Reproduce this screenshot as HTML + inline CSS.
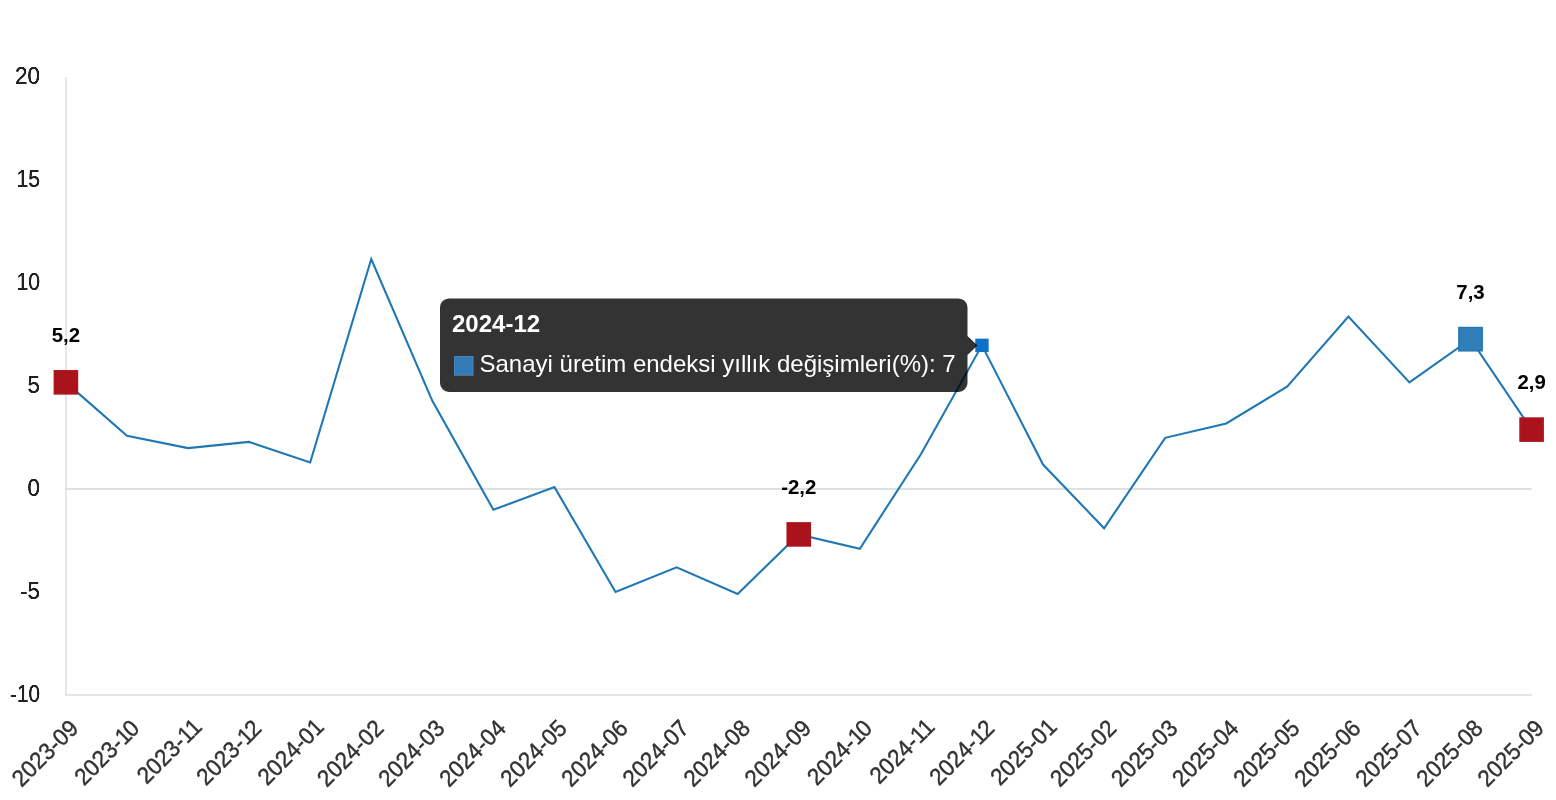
<!DOCTYPE html>
<html lang="tr"><head><meta charset="utf-8"><title>Sanayi üretim endeksi</title>
<style>
html,body{margin:0;padding:0;background:#fff;}
body{width:1556px;height:800px;overflow:hidden;position:relative;}
svg{display:block;position:absolute;left:0;top:0;}
.yl{font-family:"Liberation Sans",sans-serif;font-size:22px;fill:#222;text-anchor:end;}
.xl{font-family:"Liberation Sans",sans-serif;font-size:23.5px;fill:#333;stroke:#333;stroke-width:0.4px;text-anchor:start;}
.dl{font-family:"Liberation Sans",sans-serif;font-size:20.4px;font-weight:bold;fill:#000;text-anchor:middle;}
.tt{font-family:"Liberation Sans",sans-serif;font-size:24px;fill:#fff;}
</style></head><body>
<svg width="1556" height="800" viewBox="0 0 1556 800">

<defs><filter id="bolden" x="-10%" y="-20%" width="120%" height="140%" color-interpolation-filters="sRGB"><feGaussianBlur stdDeviation="0.42"/><feComponentTransfer><feFuncA type="linear" slope="1.7" intercept="0"/></feComponentTransfer></filter></defs>
<rect x="65" y="77" width="2" height="619" fill="#e5e5e5"/>
<rect x="65" y="694" width="1467" height="2" fill="#e5e5e5"/>
<rect x="65" y="488" width="1466.5" height="2" fill="#dfe0e1"/>
<text class="yl" filter="url(#bolden)" transform="translate(40.0,84.2) scale(1.02,1.055)">20</text>
<text class="yl" style="font-size:20.8px" filter="url(#bolden)" transform="translate(40.0,187.2) scale(1.02,1.1159)">15</text>
<text class="yl" style="font-size:20.8px" filter="url(#bolden)" transform="translate(40.0,290.2) scale(1.02,1.1159)">10</text>
<text class="yl" filter="url(#bolden)" transform="translate(40.0,393.2) scale(1.02,1.055)">5</text>
<text class="yl" filter="url(#bolden)" transform="translate(40.0,496.2) scale(1.02,1.055)">0</text>
<text class="yl" filter="url(#bolden)" transform="translate(40.0,599.2) scale(1.02,1.055)">-5</text>
<text class="yl" style="font-size:20.3px" filter="url(#bolden)" transform="translate(40.0,702.2) scale(1.02,1.1433)">-10</text>
<text class="xl" x="-86.24 -73.17 -60.10 -47.03 -33.96 -26.14 -13.07" transform="translate(79.70,729.70) rotate(-45) scale(0.955,1)">2023-09</text>
<text class="xl" x="-84.15 -71.08 -58.01 -44.94 -31.87 -24.04 -13.07" transform="translate(140.77,729.70) rotate(-45) scale(0.955,1)">2023-10</text>
<text class="xl" x="-82.05 -68.98 -55.92 -42.85 -29.78 -21.95 -10.98" transform="translate(201.84,729.70) rotate(-45) scale(0.955,1)">2023-11</text>
<text class="xl" x="-84.15 -71.08 -58.01 -44.94 -31.87 -24.04 -13.07" transform="translate(262.91,729.70) rotate(-45) scale(0.955,1)">2023-12</text>
<text class="xl" x="-84.15 -71.08 -58.01 -44.94 -31.87 -24.04 -10.98" transform="translate(323.98,729.70) rotate(-45) scale(0.955,1)">2024-01</text>
<text class="xl" x="-86.24 -73.17 -60.10 -47.03 -33.96 -26.14 -13.07" transform="translate(385.05,729.70) rotate(-45) scale(0.955,1)">2024-02</text>
<text class="xl" x="-86.24 -73.17 -60.10 -47.03 -33.96 -26.14 -13.07" transform="translate(446.12,729.70) rotate(-45) scale(0.955,1)">2024-03</text>
<text class="xl" x="-86.24 -73.17 -60.10 -47.03 -33.96 -26.14 -13.07" transform="translate(507.20,729.70) rotate(-45) scale(0.955,1)">2024-04</text>
<text class="xl" x="-86.24 -73.17 -60.10 -47.03 -33.96 -26.14 -13.07" transform="translate(568.27,729.70) rotate(-45) scale(0.955,1)">2024-05</text>
<text class="xl" x="-86.24 -73.17 -60.10 -47.03 -33.96 -26.14 -13.07" transform="translate(629.34,729.70) rotate(-45) scale(0.955,1)">2024-06</text>
<text class="xl" x="-86.24 -73.17 -60.10 -47.03 -33.96 -26.14 -13.07" transform="translate(690.41,729.70) rotate(-45) scale(0.955,1)">2024-07</text>
<text class="xl" x="-86.24 -73.17 -60.10 -47.03 -33.96 -26.14 -13.07" transform="translate(751.48,729.70) rotate(-45) scale(0.955,1)">2024-08</text>
<text class="xl" x="-86.24 -73.17 -60.10 -47.03 -33.96 -26.14 -13.07" transform="translate(812.55,729.70) rotate(-45) scale(0.955,1)">2024-09</text>
<text class="xl" x="-84.15 -71.08 -58.01 -44.94 -31.87 -24.04 -13.07" transform="translate(873.62,729.70) rotate(-45) scale(0.955,1)">2024-10</text>
<text class="xl" x="-82.05 -68.98 -55.92 -42.85 -29.78 -21.95 -10.98" transform="translate(934.69,729.70) rotate(-45) scale(0.955,1)">2024-11</text>
<text class="xl" x="-84.15 -71.08 -58.01 -44.94 -31.87 -24.04 -13.07" transform="translate(995.76,729.70) rotate(-45) scale(0.955,1)">2024-12</text>
<text class="xl" x="-84.15 -71.08 -58.01 -44.94 -31.87 -24.04 -10.98" transform="translate(1056.83,729.70) rotate(-45) scale(0.955,1)">2025-01</text>
<text class="xl" x="-86.24 -73.17 -60.10 -47.03 -33.96 -26.14 -13.07" transform="translate(1117.90,729.70) rotate(-45) scale(0.955,1)">2025-02</text>
<text class="xl" x="-86.24 -73.17 -60.10 -47.03 -33.96 -26.14 -13.07" transform="translate(1178.97,729.70) rotate(-45) scale(0.955,1)">2025-03</text>
<text class="xl" x="-86.24 -73.17 -60.10 -47.03 -33.96 -26.14 -13.07" transform="translate(1240.05,729.70) rotate(-45) scale(0.955,1)">2025-04</text>
<text class="xl" x="-86.24 -73.17 -60.10 -47.03 -33.96 -26.14 -13.07" transform="translate(1301.12,729.70) rotate(-45) scale(0.955,1)">2025-05</text>
<text class="xl" x="-86.24 -73.17 -60.10 -47.03 -33.96 -26.14 -13.07" transform="translate(1362.19,729.70) rotate(-45) scale(0.955,1)">2025-06</text>
<text class="xl" x="-86.24 -73.17 -60.10 -47.03 -33.96 -26.14 -13.07" transform="translate(1423.26,729.70) rotate(-45) scale(0.955,1)">2025-07</text>
<text class="xl" x="-86.24 -73.17 -60.10 -47.03 -33.96 -26.14 -13.07" transform="translate(1484.33,729.70) rotate(-45) scale(0.955,1)">2025-08</text>
<text class="xl" x="-86.24 -73.17 -60.10 -47.03 -33.96 -26.14 -13.07" transform="translate(1545.40,729.70) rotate(-45) scale(0.955,1)">2025-09</text>
<polyline points="65.90,382.34 126.97,435.77 188.04,448.10 249.11,441.94 310.18,462.49 371.25,259.04 432.32,400.83 493.40,509.75 554.47,487.14 615.54,591.95 676.61,567.29 737.68,594.00 798.75,534.41 859.82,548.79 920.89,454.26 981.96,345.35 1043.03,464.54 1104.10,528.25 1165.17,437.82 1226.25,423.44 1287.32,386.45 1348.39,316.58 1409.46,382.34 1470.53,339.18 1531.60,429.61" fill="none" stroke="#1f77b4" stroke-width="2.1" stroke-linejoin="miter"/>
<rect x="54.35" y="370.79" width="23.1" height="23.1" fill="#aa131b" stroke="#ad151d" stroke-width="1.5"/>
<rect x="787.20" y="522.86" width="23.1" height="23.1" fill="#aa131b" stroke="#ad151d" stroke-width="1.5"/>
<rect x="1520.05" y="418.06" width="23.1" height="23.1" fill="#aa131b" stroke="#ad151d" stroke-width="1.5"/>
<rect x="1458.90" y="327.56" width="23.25" height="23.25" fill="#327eb8" stroke="#2077b4" stroke-width="1.5"/>
<rect x="975.26" y="338.65" width="13.4" height="13.4" fill="#0f71c6"/>
<text class="dl" x="65.90" y="342.1">5,2</text>
<text class="dl" x="798.75" y="494.2">-2,2</text>
<text class="dl" x="1470.53" y="299.0">7,3</text>
<text class="dl" x="1531.60" y="389.4">2,9</text>
<path d="M449,298.4 H958.5 a9,9 0 0 1 9,9 V336 L977.5,345.5 L967.5,355 V383 a9,9 0 0 1 -9,9 H449 a9,9 0 0 1 -9,-9 V307.4 a9,9 0 0 1 9,-9 Z" fill="rgba(0,0,0,0.8)"/>
<rect x="454.5" y="356.5" width="18.5" height="18.7" fill="#337ab7" stroke="#4685bd" stroke-width="1"/>
<text class="tt" x="452" y="332" font-weight="bold">2024-12</text>
<text class="tt" x="479.5" y="372.3">Sanayi üretim endeksi yıllık değişimleri(%): 7</text>
</svg></body></html>
